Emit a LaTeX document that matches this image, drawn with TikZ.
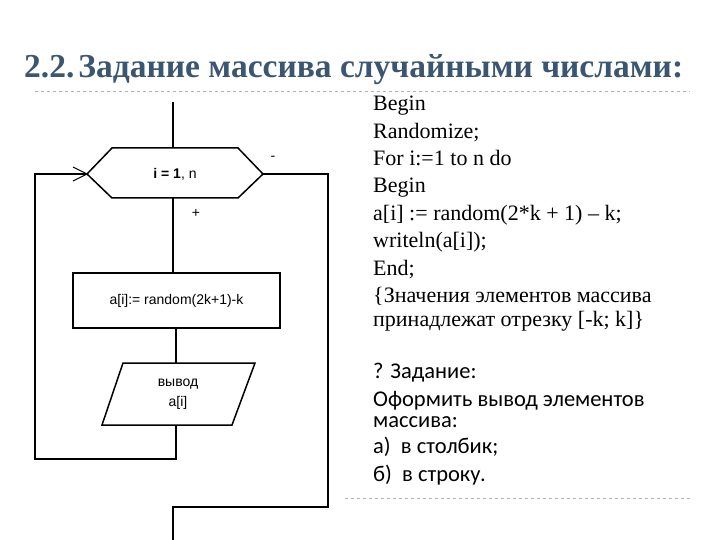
\documentclass[tikz,border=0pt]{standalone}
\usepackage{fontspec}
\setmainfont{Liberation Serif}
\newfontfamily\arialf{Liberation Sans}
\newfontfamily\calf{Carlito}
\usetikzlibrary{arrows.meta}
\definecolor{titlec}{HTML}{3B5670}
\tikzset{
  ln/.style={line width=1.5pt},
  fc/.style={font=\arialf\fontsize{14}{17}\selectfont, inner sep=0pt},
  sep/.style={gray!60, dashed, line width=0.5pt},
  codet/.style={font=\fontsize{22}{27.4}\selectfont, anchor=north west, align=left, inner sep=0pt},
  taskt/.style={font=\calf\fontsize{22.5}{26}\selectfont, anchor=north west, align=left, inner sep=0pt}
}
\begin{document}
\begin{tikzpicture}[x=1pt,y=-1pt]
\useasboundingbox (0,0) rectangle (720,540);
\node[font=\bfseries\fontsize{33.5}{36}\selectfont, text=titlec, anchor=west, inner sep=0pt] (title) at (24,70) {2.2.\hspace{4pt}Задание массива случайными числами:};
\draw[sep] (35,91) -- (690,91);
\draw[sep] (345,498) -- (690,498);
% flowchart
\coordinate (top) at (173,102);
\draw[ln] (87,174) -- (112,148) -- (238,148) -- (263,174) -- (238,198) -- (112,198) -- cycle;
\node[fc] (hex) at (175,174) {\textbf{i = 1}, n};
\coordinate (hexT) at (173,148);
\coordinate (hexB) at (173,198);
\coordinate (hexL) at (87,174);
\coordinate (hexR) at (263,174);
\node[fc] (minus) at (273,158) {-};
\node[fc] (plus) at (196,213) {+};
\node[ln, draw, minimum width=207pt, minimum height=55pt, inner sep=0pt, fc] (rect) at (176.5,300.5) {a[i]:= random(2k+1)-k};
\draw[ln] (123,363) -- (255,363) -- (232,425) -- (102,425) -- cycle;
\node[fc, align=center, font=\arialf\fontsize{14}{20}\selectfont] (out) at (178,394) {вывод\\a[i]};
\coordinate (parT) at (176,363);
\coordinate (parB) at (176,425);
\draw[ln] (top) -- (hexT);
\draw[ln] (hexB) -- (rect.north -| hexB);
\draw[ln] (rect.south -| parT) -- (parT);
\coordinate (lb) at (176,459);
\draw[ln] (parB) -- (lb) -- (35,459) -- (35,174) -- (hexL);
\draw[line width=1pt] (hexL) ++(-14,-7) -- (hexL) -- ++(-14,7);
\coordinate (bot) at (173,540);
\draw[ln] (hexR) -- (328,174) -- (328,507) -- (173,507) -- (bot);
% text
\node[codet] (code) at (373,96) {Begin\\Randomize;\\For i:=1 to n do\\Begin\\a[i] := random(2*k + 1) – k;\\writeln(a[i]);\\End;\\\{Значения элементов массива\\[-3pt]принадлежат отрезку [-k; k]\}};
\node[taskt] (task) at (373,363) {? Задание:\\[2pt]Оформить вывод элементов\\[-5pt]массива:\\а)\ \ в столбик;\\[2pt]б)\ \ в строку.};
\end{tikzpicture}
\end{document}
